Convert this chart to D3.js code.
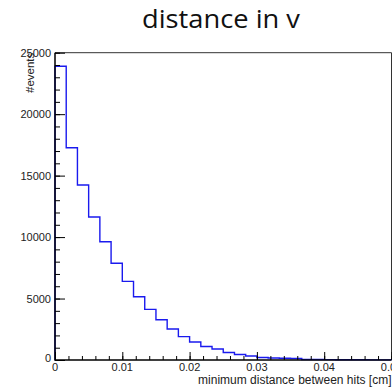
<!DOCTYPE html>
<html>
<head>
<meta charset="utf-8">
<script src="https://cdn.jsdelivr.net/npm/d3@7"></script>
<style>
  html, body { margin: 0; padding: 0; background: #fff; }
  svg { display: block; }
</style>
</head>
<body>
<svg id="chart" width="392" height="387"></svg>
<script>
// Histogram of minimum distance between hits: 30 bins over [0, 0.05] cm
const binEdgesStart = 0;
const binEdgesEnd = 0.05;
const binCounts = [
  23900, 17270, 14240, 11630, 9620, 7870, 6400, 5150, 4120, 3280,
  2520, 1900, 1460, 1100, 890, 610, 450, 320, 200, 160,
  140, 120, 40, 35, 30, 25, 20, 15, 12, 10
];
const xTickValues = [0, 0.01, 0.02, 0.03, 0.04, 0.05];
const xTickLabels = ["0", "0.01", "0.02", "0.03", "0.04", "0.05"];
const yTickValues = [0, 5000, 10000, 15000, 20000, 25000];
const yTickLabels = ["0", "5000", "10000", "15000", "20000", "25000"];
const titleText = "distance in v";
const xTitle = "minimum distance between hits [cm]";
const yTitle = "#events";

const svg = d3.select("#chart");
const padL = 55, padR = 391.5, padT = 52.7, padB = 360;

const x = d3.scaleLinear().domain([binEdgesStart, binEdgesEnd]).range([padL, padR]);
const y = d3.scaleLinear().domain([0, 25000]).range([padB, padT]);

const labelFont = "'Liberation Sans', Arial, Helvetica, sans-serif";

// Title
svg.append("text")
  .attr("x", 142).attr("y", 28)
  .attr("font-family", "'Open Sans', 'Noto Sans', sans-serif")
  .attr("font-size", 25)
  .attr("textLength", 158)
  .attr("lengthAdjust", "spacingAndGlyphs")
  .attr("fill", "#111")
  .text(titleText);

// Frame (top and right)
svg.append("path")
  .attr("d", `M${padL},${padT}H${padR}V${padB}`)
  .attr("fill", "none").attr("stroke", "#333").attr("stroke-width", 1);

// Histogram outline
const nb = binCounts.length;
const bw = (binEdgesEnd - binEdgesStart) / nb;
const pts = [[binEdgesStart, 0]];
binCounts.forEach((v, i) => {
  pts.push([binEdgesStart + i * bw, v]);
  pts.push([binEdgesStart + (i + 1) * bw, v]);
});
pts.push([binEdgesEnd, 0]);
svg.append("path")
  .attr("d", d3.line().x(d => x(d[0])).y(d => y(d[1]))(pts))
  .attr("fill", "none")
  .attr("stroke", "#1a1aee")
  .attr("stroke-width", 1.4);

// X axis: inward ticks, major every 0.01, minor every 0.002
const xMinor = d3.range(0, 26).map(i => i * 0.002).filter(v => v <= binEdgesEnd + 1e-9);
svg.append("g").attr("transform", `translate(0,${padB})`)
  .call(d3.axisTop(x).tickValues(xMinor).tickSize(4).tickFormat(""))
  .call(g => g.select(".domain").remove())
  .call(g => g.selectAll("line").attr("stroke", "#000").attr("stroke-width", 1));
svg.append("g").attr("transform", `translate(0,${padB})`)
  .call(d3.axisTop(x).tickValues(xTickValues).tickSize(8).tickFormat(""))
  .call(g => g.select(".domain").remove())
  .call(g => g.selectAll("line").attr("stroke", "#000").attr("stroke-width", 1));
svg.append("g").selectAll("text").data(xTickValues).join("text")
  .attr("x", d => x(d)).attr("y", 371)
  .attr("text-anchor", "middle")
  .attr("font-family", labelFont).attr("font-size", 11).attr("fill", "#222")
  .text((d, i) => xTickLabels[i]);

// Y axis: inward ticks, major every 5000, minor every 1000
const yMinor = d3.range(0, 26).map(i => i * 1000);
svg.append("g").attr("transform", `translate(${padL},0)`)
  .call(d3.axisRight(y).tickValues(yMinor).tickSize(5).tickFormat(""))
  .call(g => g.select(".domain").remove())
  .call(g => g.selectAll("line").attr("stroke", "#000").attr("stroke-width", 1));
svg.append("g").attr("transform", `translate(${padL},0)`)
  .call(d3.axisRight(y).tickValues(yTickValues).tickSize(10).tickFormat(""))
  .call(g => g.select(".domain").remove())
  .call(g => g.selectAll("line").attr("stroke", "#000").attr("stroke-width", 1));
svg.append("g").selectAll("text").data(yTickValues).join("text")
  .attr("x", 51).attr("y", d => y(d) + (d === 0 ? 2 : 4))
  .attr("text-anchor", "end")
  .attr("font-family", labelFont).attr("font-size", 11).attr("fill", "#222")
  .text((d, i) => yTickLabels[i]);

// Axis lines
svg.append("path")
  .attr("d", `M${padL},${padT}V${padB}H${padR}`)
  .attr("fill", "none").attr("stroke", "#000").attr("stroke-width", 1.5);

// Axis titles
svg.append("text")
  .attr("x", padR).attr("y", 384)
  .attr("text-anchor", "end")
  .attr("font-family", labelFont).attr("font-size", 12).attr("fill", "#222")
  .text(xTitle);
svg.append("text")
  .attr("transform", `translate(34,${padT}) rotate(-90)`)
  .attr("text-anchor", "end")
  .attr("font-family", labelFont).attr("font-size", 11.5).attr("fill", "#222")
  .text(yTitle);
</script>
</body>
</html>
